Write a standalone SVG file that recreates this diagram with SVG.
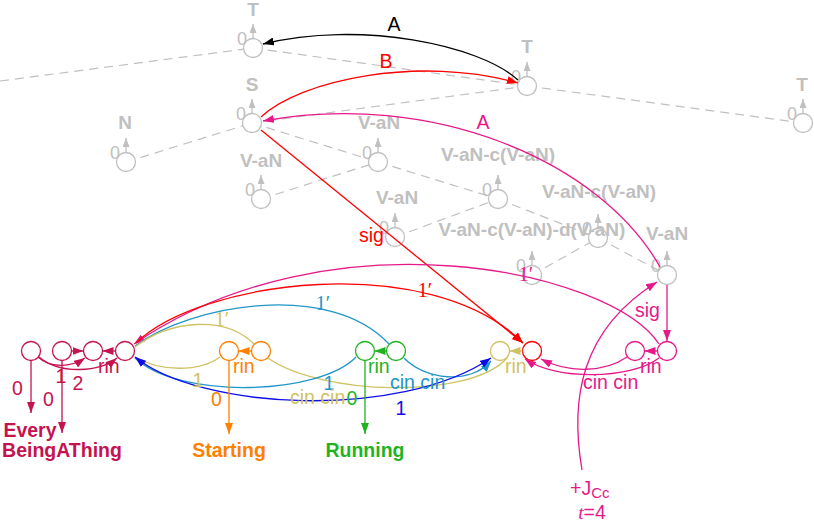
<svg xmlns="http://www.w3.org/2000/svg" width="814" height="523" viewBox="0 0 814 523">
<defs>
<style>
.tn circle{fill:#fff;stroke:#c0c0c0;stroke-width:1.3}
.tl{font-family:"Liberation Sans",Arial,sans-serif;font-weight:bold;font-size:19px;fill:#c0c0c0;text-anchor:middle}
.t0{font-family:"Liberation Sans",Arial,sans-serif;font-size:18px;fill:#c0c0c0}
.up{stroke:#c0c0c0;stroke-width:1.3;marker-end:url(#ag)}
.dash{stroke:#c0c0c0;stroke-width:1.2;stroke-dasharray:9 6;fill:none}
.e{fill:none;stroke-width:1.3}
.lb{font-family:"Liberation Sans",Arial,sans-serif;font-size:19.5px}
.lp{font-family:"Liberation Serif","Times New Roman",serif;font-size:20px;text-anchor:middle}
.wd{font-family:"Liberation Sans",Arial,sans-serif;font-weight:bold;font-size:19.5px;text-anchor:middle}
.bn{fill:#fff;stroke-width:1.3}
.cr{stroke:#c51350}.or{stroke:#ff8000}.gr{stroke:#1fb41f}.ol{stroke:#cfc263}.cy{stroke:#2196c8}.bl{stroke:#0d0de8}.rd{stroke:#ff0000}.pk{stroke:#e6198a}.bk{stroke:#000}
</style>
<marker id="ag" markerUnits="userSpaceOnUse" markerWidth="9" markerHeight="7" viewBox="0 0 9 7" refX="9" refY="3.5" orient="auto"><path d="M0,0L9,3.5L0,7z" fill="#c0c0c0"/></marker>
<marker id="a-bk" markerUnits="userSpaceOnUse" markerWidth="11" markerHeight="8" viewBox="0 0 11 8" refX="11" refY="4" orient="auto-start-reverse"><path d="M0,0L11,4L0,8z" fill="#000"/></marker>
<marker id="a-rd" markerUnits="userSpaceOnUse" markerWidth="11" markerHeight="8" viewBox="0 0 11 8" refX="11" refY="4" orient="auto-start-reverse"><path d="M0,0L11,4L0,8z" fill="#ff0000"/></marker>
<marker id="a-pk" markerUnits="userSpaceOnUse" markerWidth="11" markerHeight="8" viewBox="0 0 11 8" refX="11" refY="4" orient="auto-start-reverse"><path d="M0,0L11,4L0,8z" fill="#e6198a"/></marker>
<marker id="a-cy" markerUnits="userSpaceOnUse" markerWidth="11" markerHeight="8" viewBox="0 0 11 8" refX="11" refY="4" orient="auto-start-reverse"><path d="M0,0L11,4L0,8z" fill="#2196c8"/></marker>
<marker id="a-bl" markerUnits="userSpaceOnUse" markerWidth="11" markerHeight="8" viewBox="0 0 11 8" refX="11" refY="4" orient="auto-start-reverse"><path d="M0,0L11,4L0,8z" fill="#0d0de8"/></marker>
<marker id="a-cr" markerUnits="userSpaceOnUse" markerWidth="11" markerHeight="8" viewBox="0 0 11 8" refX="11" refY="4" orient="auto-start-reverse"><path d="M0,0L11,4L0,8z" fill="#c51350"/></marker>
<marker id="a-or" markerUnits="userSpaceOnUse" markerWidth="11" markerHeight="8" viewBox="0 0 11 8" refX="11" refY="4" orient="auto-start-reverse"><path d="M0,0L11,4L0,8z" fill="#ff8000"/></marker>
<marker id="a-gr" markerUnits="userSpaceOnUse" markerWidth="11" markerHeight="8" viewBox="0 0 11 8" refX="11" refY="4" orient="auto-start-reverse"><path d="M0,0L11,4L0,8z" fill="#1fb41f"/></marker>
<marker id="a-ol" markerUnits="userSpaceOnUse" markerWidth="11" markerHeight="8" viewBox="0 0 11 8" refX="11" refY="4" orient="auto-start-reverse"><path d="M0,0L11,4L0,8z" fill="#cfc263"/></marker>
</defs>
<rect width="814" height="523" fill="#fff"/>

<g id="tree-edges">
<line class="dash" x1="0" y1="81" x2="253" y2="48"/>
<line class="dash" x1="253" y1="48" x2="527" y2="86"/>
<line class="dash" x1="527" y1="86" x2="803" y2="123"/>
<line class="dash" x1="252" y1="123" x2="527" y2="86"/>
<line class="dash" x1="126" y1="162" x2="252" y2="123"/>
<line class="dash" x1="252" y1="123" x2="378" y2="162"/>
<line class="dash" x1="261" y1="199" x2="378" y2="162"/>
<line class="dash" x1="378" y1="162" x2="498" y2="199"/>
<line class="dash" x1="395" y1="237" x2="498" y2="199"/>
<line class="dash" x1="498" y1="199" x2="598" y2="238"/>
<line class="dash" x1="532" y1="275" x2="598" y2="238"/>
<line class="dash" x1="598" y1="238" x2="667" y2="275"/>
</g>

<g id="T1" class="tn"><circle cx="253" cy="48" r="9.5"/><line class="up" x1="253" y1="38.5" x2="253" y2="24"/><text class="t0" x="237" y="45">0</text><text class="tl" x="253" y="16">T</text></g>
<g id="T2" class="tn"><circle cx="527" cy="86" r="9.5"/><line class="up" x1="527" y1="76.5" x2="527" y2="62"/><text class="t0" x="511" y="83">0</text><text class="tl" x="527" y="53">T</text></g>
<g id="T3" class="tn"><circle cx="803" cy="123" r="9.5"/><line class="up" x1="803" y1="113.5" x2="803" y2="99"/><text class="t0" x="787" y="120">0</text><text class="tl" x="802" y="91">T</text></g>
<g id="S" class="tn"><circle cx="252" cy="123" r="9.5"/><line class="up" x1="252" y1="113.5" x2="252" y2="99"/><text class="t0" x="236" y="120">0</text><text class="tl" x="252" y="91">S</text></g>
<g id="N" class="tn"><circle cx="126" cy="162" r="9.5"/><line class="up" x1="126" y1="152.5" x2="126" y2="138"/><text class="t0" x="110" y="159">0</text><text class="tl" x="125" y="129">N</text></g>
<g id="VaN1" class="tn"><circle cx="378" cy="162" r="9.5"/><line class="up" x1="378" y1="152.5" x2="378" y2="138"/><text class="t0" x="362" y="159">0</text><text class="tl" x="379" y="129">V-aN</text></g>
<g id="VaN2" class="tn"><circle cx="261" cy="199" r="9.5"/><line class="up" x1="261" y1="189.5" x2="261" y2="175"/><text class="t0" x="245" y="196">0</text><text class="tl" x="261" y="167">V-aN</text></g>
<g id="VaNc1" class="tn"><circle cx="498" cy="199" r="9.5"/><line class="up" x1="498" y1="189.5" x2="498" y2="175"/><text class="t0" x="482" y="196">0</text><text class="tl" x="498" y="161">V-aN-c(V-aN)</text></g>
<g id="VaN3" class="tn"><circle cx="395" cy="237" r="9.5"/><line class="up" x1="395" y1="227.5" x2="395" y2="213"/><text class="t0" x="379" y="234">0</text><text class="tl" x="397" y="204">V-aN</text></g>
<g id="VaNc2" class="tn"><circle cx="598" cy="238" r="9.5"/><line class="up" x1="598" y1="228.5" x2="598" y2="214"/><text class="t0" x="582" y="235">0</text><text class="tl" x="599" y="198">V-aN-c(V-aN)</text></g>
<g id="VaNcd" class="tn"><circle cx="532" cy="275" r="9.5"/><line class="up" x1="532" y1="265.5" x2="532" y2="251"/><text class="t0" x="516" y="272">0</text><text class="tl" x="532" y="236">V-aN-c(V-aN)-d(V-aN)</text></g>
<g id="VaN4" class="tn"><circle cx="667" cy="275" r="9.5"/><line class="up" x1="667" y1="265.5" x2="667" y2="251"/><text class="t0" x="651" y="272">0</text><text class="tl" x="667" y="240">V-aN</text></g>

<g id="bottom-nodes">
<g id="e1"><circle class="bn cr" cx="31" cy="351" r="9.5"/></g>
<g id="e2"><circle class="bn cr" cx="62" cy="351" r="9.5"/></g>
<g id="e3"><circle class="bn cr" cx="93" cy="351" r="9.5"/></g>
<g id="e4"><circle class="bn cr" cx="125" cy="351" r="9.5"/></g>
<g id="s1"><circle class="bn or" cx="229" cy="351" r="9.5"/></g>
<g id="s2"><circle class="bn or" cx="261" cy="351" r="9.5"/></g>
<g id="r1"><circle class="bn gr" cx="365" cy="351" r="9.5"/></g>
<g id="r2"><circle class="bn gr" cx="396" cy="351" r="9.5"/></g>
<g id="y1"><circle class="bn ol" cx="500" cy="351" r="9.5"/></g>
<g id="red1"><circle class="bn rd" cx="532" cy="351" r="9.5"/></g>
<g id="p1"><circle class="bn pk" cx="635" cy="351" r="9.5"/></g>
<g id="p2"><circle class="bn pk" cx="667" cy="351" r="9.5"/></g>
</g>

<g id="words">
<g id="w-every"><text class="wd" x="30" y="437" fill="#c51350">Every</text></g>
<g id="w-being"><text class="wd" x="62" y="457" fill="#c51350">BeingAThing</text></g>
<g id="w-starting"><text class="wd" x="229" y="457" fill="#ff8000">Starting</text></g>
<g id="w-running"><text class="wd" x="365" y="457" fill="#1fb41f">Running</text></g>
</g>

<g id="connectors">
<path class="e bk" d="M518,80 C480,45 360,20 263,44" marker-end="url(#a-bk)"/>
<path class="e rd" d="M261,117 C300,80 420,55 518,83" marker-end="url(#a-rd)"/>
<path class="e pk" d="M660,267 C600,160 430,90 263,121" marker-end="url(#a-pk)"/>
<path class="e rd" d="M261,130 L523,343" marker-end="url(#a-rd)"/>
<path class="e pk" d="M667,285 L667,341" marker-end="url(#a-pk)"/>
<path class="e pk" d="M659,344 C610,270 330,210 134,344" marker-end="url(#a-pk)"/>
<path class="e rd" d="M136,343 C200,280 430,250 523,343" marker-end="url(#a-rd)"/>
<path class="e cy" d="M135,346 C190,305 330,280 389,344"/>
<path class="e cy" d="M404,358 C425,380 470,385 491,361" marker-end="url(#a-cy)"/>
<path class="e ol" d="M135,347 C170,320 225,315 254,344"/>
<path class="e ol" d="M268,358 C320,395 470,400 507,358"/>
<path class="e ol" d="M220,357 C200,372 160,372 135,357"/>
<path class="e cy" d="M356,357 C320,395 180,400 135,358"/>
<path class="e bl" d="M491,358 C400,420 200,410 135,357" marker-start="url(#a-bl)" marker-end="url(#a-bl)"/>
<path class="e pk" d="M627,357 C605,372 570,374 541,359" marker-end="url(#a-pk)"/>
<path class="e pk" d="M659,358 C630,380 555,380 525,359" marker-end="url(#a-pk)"/>
<path class="e pk" d="M582,470 C570,400 580,330 657,282" marker-end="url(#a-pk)"/>
<path class="e cr" d="M38,357 C50,368 70,368 85,358" marker-end="url(#a-cr)"/>
<path class="e cr" d="M39,357 C60,375 100,372 117,358" marker-end="url(#a-cr)"/>
<path class="e cr" d="M31,360.5 L31,413" marker-end="url(#a-cr)"/>
<path class="e cr" d="M62,360.5 L62,433" marker-end="url(#a-cr)"/>
<path class="e or" d="M229,360.5 L229,434" marker-end="url(#a-or)"/>
<path class="e gr" d="M365,360.5 L365,434" marker-end="url(#a-gr)"/>
<path class="e cr" d="M71.5,351 L83.5,351" marker-end="url(#a-cr)"/>
<path class="e cr" d="M115.5,351 L102.5,351" marker-end="url(#a-cr)"/>
<path class="e or" d="M251.5,351 L238.5,351" marker-end="url(#a-or)"/>
<path class="e gr" d="M386.5,351 L374.5,351" marker-end="url(#a-gr)"/>
<path class="e ol" d="M522.5,351 L509.5,351" marker-end="url(#a-ol)"/>
<path class="e pk" d="M657.5,351 L644.5,351" marker-end="url(#a-pk)"/>
</g>

<g id="edge-labels">
<text class="lb" x="394" y="31" text-anchor="middle" fill="#000">A</text>
<text class="lb" x="386" y="68" text-anchor="middle" fill="#ff0000">B</text>
<text class="lb" x="483" y="129" text-anchor="middle" fill="#e6198a">A</text>
<text class="lb" x="359" y="242" fill="#ff0000">sig</text>
<text class="lb" x="635" y="317" fill="#e6198a">sig</text>
<text class="lp" x="526" y="281" fill="#e6198a">1′</text>
<text class="lp" x="425" y="297" fill="#ff0000">1′</text>
<text class="lp" x="323" y="310" fill="#2196c8">1′</text>
<text class="lp" x="222" y="326" fill="#cfc263">1′</text>
<text class="lb" x="98" y="373" fill="#c51350">rin</text>
<text class="lb" x="233" y="373" fill="#ff8000">rin</text>
<text class="lb" x="368" y="373" fill="#1fb41f">rin</text>
<text class="lb" x="505" y="373" fill="#cfc263">rin</text>
<text class="lb" x="640" y="373" fill="#e6198a">rin</text>
<text class="lb" x="61" y="383" text-anchor="middle" fill="#c51350">1</text>
<text class="lb" x="78" y="390" text-anchor="middle" fill="#c51350">2</text>
<text class="lb" x="17.5" y="395" text-anchor="middle" fill="#c51350">0</text>
<text class="lb" x="48.5" y="406" text-anchor="middle" fill="#c51350">0</text>
<text class="lb" x="216.5" y="406" text-anchor="middle" fill="#ff8000">0</text>
<text class="lb" x="352" y="405" text-anchor="middle" fill="#1fb41f">0</text>
<text class="lb" x="198" y="387" text-anchor="middle" fill="#cfc263">1</text>
<text class="lb" x="329" y="390" text-anchor="middle" fill="#2196c8">1</text>
<text class="lb" x="401" y="415" text-anchor="middle" fill="#0d0de8">1</text>
<text class="lb" x="290" y="404" fill="#cfc263">cin cin</text>
<text class="lb" x="390" y="389" fill="#2196c8">cin cin</text>
<text class="lb" x="583" y="389" fill="#e6198a">cin cin</text>
<text class="lb" x="570" y="495" fill="#e6198a">+J<tspan font-size="15" dy="3">Cc</tspan></text>
<text class="lb" x="592" y="519" text-anchor="middle" fill="#e6198a"><tspan font-family="'Liberation Serif',serif" font-style="italic">t</tspan>=4</text>
</g>
</svg>
